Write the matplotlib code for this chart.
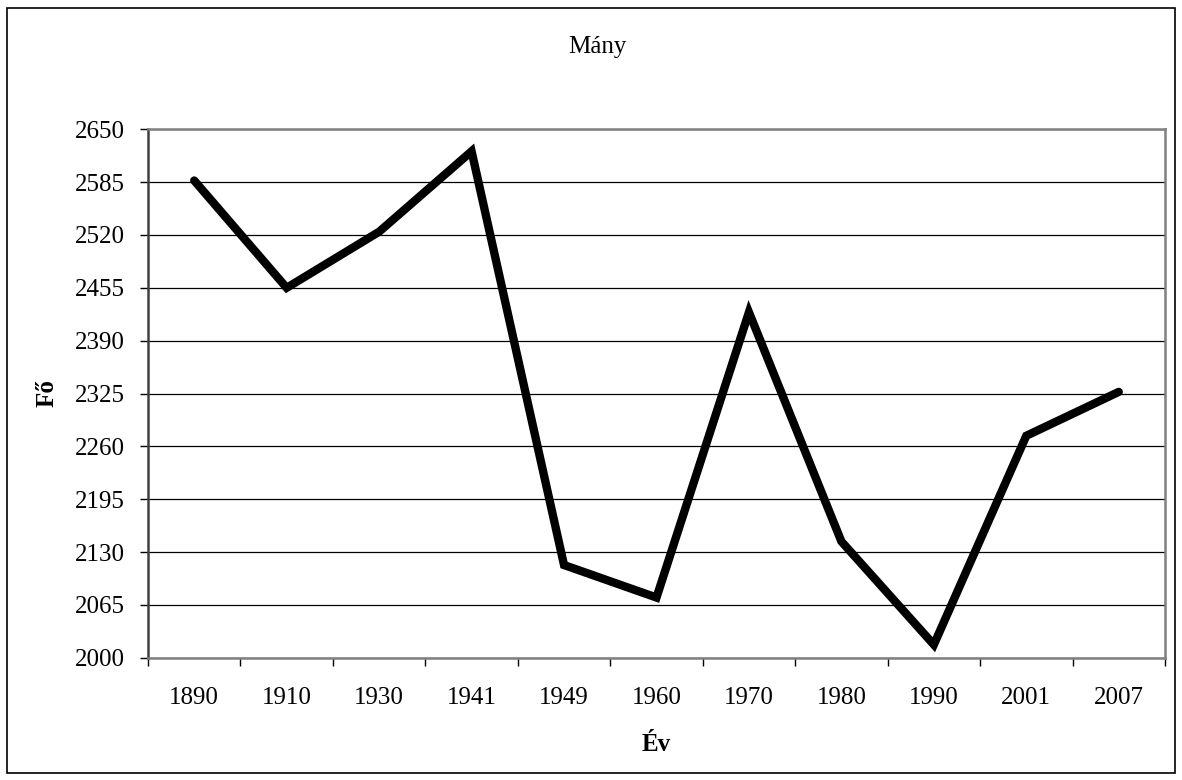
import matplotlib.pyplot as plt
import numpy as np
from matplotlib.patches import Rectangle

years = ['1890', '1910', '1930', '1941', '1949', '1960', '1970', '1980', '1990', '2001', '2007']
population = [2587, 2455, 2524, 2623, 2114, 2074, 2425, 2143, 2016, 2273, 2327]
y_ticks = [2000, 2065, 2130, 2195, 2260, 2325, 2390, 2455, 2520, 2585, 2650]

plt.rcParams['font.family'] = ['Liberation Serif', 'DejaVu Serif']
plt.rcParams['font.size'] = 18


def main():
    fig = plt.figure(figsize=(11.82, 7.80), dpi=100)
    ax = fig.add_axes([0.1252, 0.1568, 0.8604, 0.6774])

    x = np.arange(len(years))
    ax.plot(x, population, color='black', linewidth=6,
            solid_capstyle='round', solid_joinstyle='miter', zorder=3)

    ax.set_xlim(-0.5, len(years) - 0.5)
    ax.set_ylim(y_ticks[0], y_ticks[-1])
    ax.set_yticks(y_ticks)
    ax.yaxis.grid(True, color='black', linewidth=0.9)
    ax.set_axisbelow(True)

    # category boundaries get the tick marks, centres get the labels
    ax.set_xticks(np.arange(len(years) + 1) - 0.5)
    ax.set_xticklabels([])
    ax.set_xticks(x, minor=True)
    ax.set_xticklabels(years, minor=True)
    ax.tick_params(axis='x', which='major', length=6, width=1, direction='out', color='black')
    ax.tick_params(axis='x', which='minor', length=0, pad=21)
    ax.tick_params(axis='y', length=6, width=1, direction='out', pad=11)

    for side in ['left', 'bottom', 'right', 'top']:
        ax.spines[side].set_color('#808080')
        ax.spines[side].set_linewidth(1.8)
    ax.spines['left'].set_color('#404040')

    fig.text(0.505, 0.94, 'Mány', ha='center', va='center', fontsize=18)
    fig.text(0.555, 0.045, 'Év', ha='center', va='center', fontsize=18, fontweight='bold')
    fig.text(0.040, 0.496, 'Fő', ha='center', va='center', fontsize=18,
             fontweight='bold', rotation=90)

    fig.patches.append(Rectangle((0.006, 0.009), 0.988, 0.981, transform=fig.transFigure,
                                 fill=False, edgecolor='black', linewidth=1.2))

    plt.savefig('out.png', dpi=100)


if __name__ == "__main__":
    main()
